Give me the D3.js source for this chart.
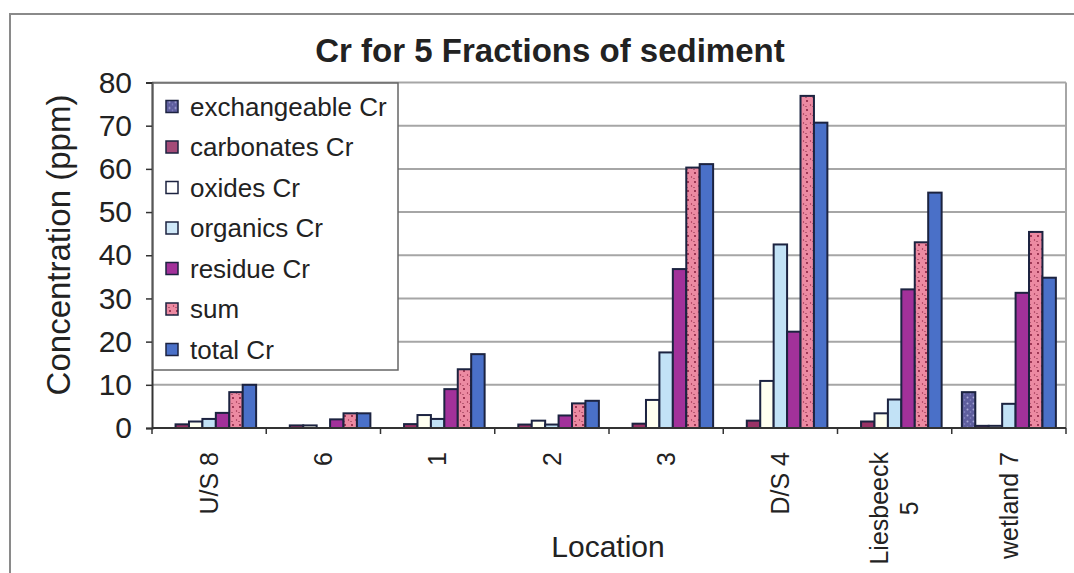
<!DOCTYPE html>
<html>
<head>
<meta charset="utf-8">
<script src="https://cdn.jsdelivr.net/npm/d3@7"></script>
<style>
  body { margin: 0; background: #fff; }
  text { font-family: "Liberation Sans", Arial, sans-serif; fill: #222; }
</style>
</head>
<body>
<div id="chart"></div>
<script>
// data
var locations = ["U/S 8", "6", "1", "2", "3", "D/S 4", "Liesbeeck 5", "wetland 7"];
var seriesNames = ["exchangeable Cr", "carbonates Cr", "oxides Cr", "organics Cr", "residue Cr", "sum", "total Cr"];
var exchangeable = [0, 0, 0, 0, 0, 0, 0, 8.3];
var carbonates = [0.85, 0.6, 0.9, 0.8, 1.0, 1.7, 1.5, 0.5];
var oxides = [1.5, 0.6, 3.0, 1.7, 6.5, 10.9, 3.4, 0.5];
var organics = [2.1, 0, 2.1, 0.8, 17.5, 42.5, 6.6, 5.6];
var residue = [3.5, 2.0, 9.0, 2.9, 36.8, 22.3, 32.1, 31.3];
var sum = [8.3, 3.4, 13.6, 5.7, 60.3, 76.9, 43.0, 45.4];
var total = [10.0, 3.4, 17.1, 6.3, 61.1, 70.7, 54.5, 34.8];
var yTicks = [0, 10, 20, 30, 40, 50, 60, 70, 80];

var seriesValues = [exchangeable, carbonates, oxides, organics, residue, sum, total];
var colors = ["url(#patExch)", "#993366", "#fffff0", "#c2e2f6", "#a2319a", "url(#patSum)", "#4a70c8"];
var swatchColors = ["url(#patExch)", "#a34a78", "#ffffff", "#cfe8f8", "#a2319a", "url(#patSum)", "#4a70c8"];

var svgWidth = 1074;
var svgHeight = 573;
var plot = { left: 152, right: 1066, top: 82.5, bottom: 428 };

var svg = d3.select("#chart")
  .append("svg")
  .attr("width", svgWidth)
  .attr("height", svgHeight);

// textures for the speckled series
var defs = svg.append("defs");
var pe = defs.append("pattern").attr("id", "patExch")
  .attr("patternUnits", "userSpaceOnUse").attr("width", 6).attr("height", 6);
pe.append("rect").attr("width", 6).attr("height", 6).attr("fill", "#5e5e9e");
pe.append("circle").attr("cx", 1.5).attr("cy", 1.5).attr("r", 1).attr("fill", "#a8a8d8");
pe.append("circle").attr("cx", 4.5).attr("cy", 4).attr("r", 0.8).attr("fill", "#8a8ac4");

var ps = defs.append("pattern").attr("id", "patSum")
  .attr("patternUnits", "userSpaceOnUse").attr("width", 7).attr("height", 9);
ps.append("rect").attr("width", 7).attr("height", 9).attr("fill", "#ec8aa2");
ps.append("circle").attr("cx", 2).attr("cy", 2).attr("r", 0.9).attr("fill", "#7a1030");
ps.append("circle").attr("cx", 5.5).attr("cy", 6).attr("r", 0.7).attr("fill", "#9a2a4a");
ps.append("circle").attr("cx", 1).attr("cy", 7.5).attr("r", 0.5).attr("fill", "#5a0c22");

// outer frame
svg.append("rect")
  .attr("x", 10).attr("y", 14)
  .attr("width", 1090).attr("height", 600)
  .attr("fill", "none")
  .attr("stroke", "#8a8a8a")
  .attr("stroke-width", 2);

var x0 = d3.scaleBand()
  .domain(locations)
  .range([plot.left, plot.right])
  .padding(0);

var groupWidth = 94;
var x1 = d3.scaleBand()
  .domain(seriesNames)
  .range([0, groupWidth])
  .padding(0);

var y = d3.scaleLinear()
  .domain([0, 80])
  .range([plot.bottom, plot.top]);

// gridlines
svg.append("g")
  .selectAll("line")
  .data(yTicks.slice(1))
  .enter()
  .append("line")
  .attr("x1", plot.left).attr("x2", plot.right)
  .attr("y1", d => y(d)).attr("y2", d => y(d))
  .attr("stroke", "#a6a6a6")
  .attr("stroke-width", 2);

svg.append("line")
  .attr("x1", plot.right).attr("x2", plot.right)
  .attr("y1", plot.top).attr("y2", plot.bottom)
  .attr("stroke", "#a6a6a6")
  .attr("stroke-width", 2);

// bars
var barData = [];
locations.forEach(function(loc, i) {
  seriesNames.forEach(function(s, j) {
    barData.push({ loc: loc, series: s, idx: j, value: seriesValues[j][i] });
  });
});

var offset = (x0.bandwidth() - groupWidth) / 2;
svg.append("g")
  .selectAll("rect")
  .data(barData)
  .enter()
  .append("rect")
  .attr("x", d => x0(d.loc) + offset + x1(d.series))
  .attr("y", d => y(d.value))
  .attr("width", x1.bandwidth())
  .attr("height", d => y(0) - y(d.value))
  .attr("fill", d => colors[d.idx])
  .attr("stroke", "#1c2340")
  .attr("stroke-width", 2);

// axes
var leftAxis = d3.axisLeft(y).tickValues(yTicks).tickSize(6).tickFormat(d3.format("d"));
var yAxisG = svg.append("g")
  .attr("transform", `translate(${plot.left}, 0)`)
  .call(leftAxis);
yAxisG.select(".domain").attr("stroke", "#333").attr("stroke-width", 2);
yAxisG.selectAll(".tick line").attr("stroke", "#333").attr("stroke-width", 1.5);
yAxisG.selectAll(".tick text")
  .attr("x", -20)
  .style("font-size", "30px")
  .style("font-family", "Liberation Sans, Arial, sans-serif")
  .attr("fill", "#222");

var boundaries = x0.domain().map(d => x0(d)).concat([plot.right]);
svg.append("line")
  .attr("x1", plot.left).attr("x2", plot.right)
  .attr("y1", plot.bottom).attr("y2", plot.bottom)
  .attr("stroke", "#333")
  .attr("stroke-width", 2);
svg.append("g")
  .selectAll("line")
  .data(boundaries)
  .enter()
  .append("line")
  .attr("x1", d => d).attr("x2", d => d)
  .attr("y1", plot.bottom).attr("y2", plot.bottom + 6)
  .attr("stroke", "#333")
  .attr("stroke-width", 1.5);

// rotated category labels
var labelTop = 452;
var labelSize = 25;
locations.forEach(function(loc) {
  var cx = x0(loc) + x0.bandwidth() / 2;
  var parts = loc === "Liesbeeck 5" ? ["Liesbeeck", "5"] : [loc];
  var g = svg.append("g")
    .attr("transform", `translate(${cx}, ${labelTop}) rotate(-90)`);
  if (parts.length === 1) {
    g.append("text")
      .attr("text-anchor", "end")
      .attr("dy", "0.35em")
      .style("font-size", labelSize + "px")
      .text(parts[0]);
  } else {
    var first = g.append("text")
      .attr("text-anchor", "end")
      .attr("y", -15)
      .attr("dy", "0.35em")
      .style("font-size", labelSize + "px")
      .text(parts[0]);
    var w = first.node().getComputedTextLength();
    g.append("text")
      .attr("text-anchor", "middle")
      .attr("x", -w / 2)
      .attr("y", 15)
      .attr("dy", "0.35em")
      .style("font-size", labelSize + "px")
      .text(parts[1]);
  }
});

// titles
svg.append("text")
  .attr("x", 550)
  .attr("y", 62)
  .attr("text-anchor", "middle")
  .style("font-size", "33px")
  .style("font-weight", "bold")
  .text("Cr for 5 Fractions of sediment");

svg.append("text")
  .attr("x", 608)
  .attr("y", 557)
  .attr("text-anchor", "middle")
  .style("font-size", "30px")
  .text("Location");

svg.append("text")
  .attr("transform", "translate(70, 245) rotate(-90)")
  .attr("text-anchor", "middle")
  .style("font-size", "33px")
  .text("Concentration (ppm)");

// legend
var legend = svg.append("g");
legend.append("rect")
  .attr("x", 153).attr("y", 83)
  .attr("width", 245).attr("height", 287)
  .attr("fill", "#fff")
  .attr("stroke", "#666")
  .attr("stroke-width", 1.5);

var items = legend.selectAll("g.item")
  .data(seriesNames)
  .enter()
  .append("g")
  .attr("class", "item")
  .attr("transform", (d, i) => `translate(0, ${106.5 + i * 40.5})`);

items.append("rect")
  .attr("x", 166).attr("y", -6)
  .attr("width", 12).attr("height", 12)
  .attr("fill", (d, i) => swatchColors[i])
  .attr("stroke", "#1c2340")
  .attr("stroke-width", 1.5);

items.append("text")
  .attr("x", 190)
  .attr("dy", "0.35em")
  .style("font-size", "26px")
  .text(d => d);
</script>
</body>
</html>
